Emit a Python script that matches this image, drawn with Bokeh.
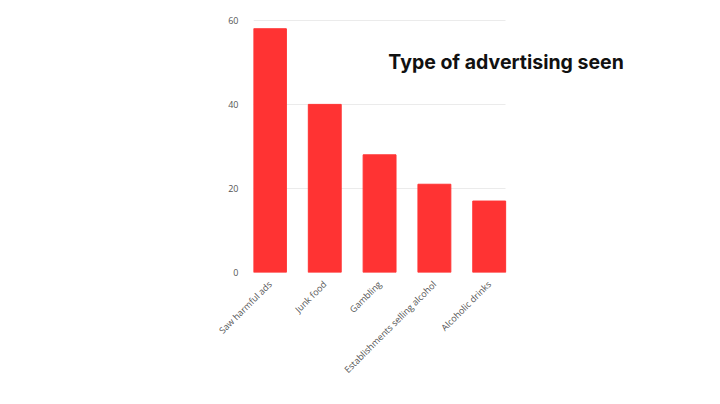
from bokeh.plotting import figure
from bokeh.models import Range1d, Label, FixedTicker
from bokeh.embed import file_html
from bokeh.resources import INLINE

categories = ['Saw harmful ads', 'Junk food', 'Gambling',
              'Establishments selling alcohol', 'Alcoholic drinks']
seen = [58, 40, 28, 21, 17]
y_ticks = [0, 20, 40, 60]

# bars sit at 0..n-1, the frame runs on to the right to hold the title
xpos = list(range(len(categories)))
bar_w = 0.6
left_edge = xpos[0] - bar_w / 2
right_edge = xpos[-1] + bar_w / 2

p = figure(x_range=Range1d(left_edge, 6.76), y_range=(0, 60.2),
           width=704, height=388,
           output_backend="svg", toolbar_location=None,
           min_border_left=253, min_border_right=64,
           min_border_top=19, min_border_bottom=116)
p.outline_line_color = None

p.vbar(x=xpos, top=seen, width=bar_w, color='#ff3333')

p.xgrid.grid_line_color = None
p.ygrid.grid_line_color = '#ebebeb'
p.ygrid.ticker = y_ticks
p.ygrid.cross_bounds = (left_edge, right_edge)

p.yaxis.ticker = y_ticks
p.xaxis.ticker = FixedTicker(ticks=xpos)
p.xaxis.major_label_overrides = {i: c for i, c in zip(xpos, categories)}
for ax in (p.xaxis, p.yaxis):
    ax.axis_line_color = None
    ax.major_tick_line_color = None
    ax.minor_tick_line_color = None
    ax.major_label_text_color = '#555555'
    ax.major_label_text_font = 'Open Sans'
    ax.major_label_text_font_size = '9px'
p.xaxis.major_label_orientation = 0.785
p.yaxis.major_label_standoff = 9
p.xaxis.major_label_standoff = 4

title = Label(x=2.16, y=50, text='Type of advertising seen',
              text_font='Inter', text_font_style='bold',
              text_font_size='19.5px', text_color='#111111',
              text_baseline='middle', text_align='left')
p.add_layout(title)

open("out.html", "w").write(file_html(p, INLINE))
